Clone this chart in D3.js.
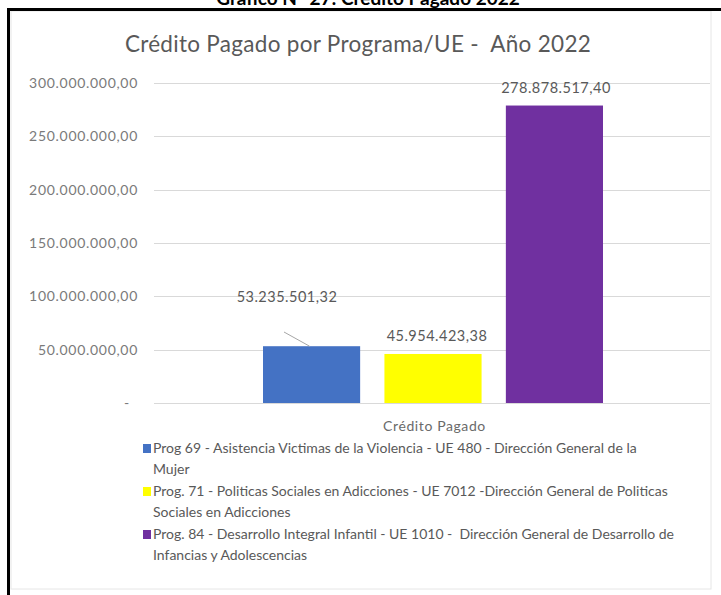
<!DOCTYPE html>
<html><head><meta charset="utf-8">
<script src="https://cdn.jsdelivr.net/npm/d3@7"></script>
<style>body{margin:0;background:#fff}svg{display:block}text{font-family:Lato,"Open Sans",sans-serif;white-space:pre}</style>
</head><body><svg id="c" width="721" height="595"></svg>
<script>
const categories = ["Crédito Pagado"];
const series = [
  "Prog 69 - Asistencia Victimas de la Violencia - UE 480 - Dirección General de la Mujer",
  "Prog. 71 - Politicas Sociales en Adicciones - UE 7012 -Dirección General de Politicas Sociales en Adicciones",
  "Prog. 84 - Desarrollo Integral Infantil - UE 1010 -  Dirección General de Desarrollo de Infancias y Adolescencias"
];
const legendLines = [
  ["Prog 69 - Asistencia Victimas de la Violencia - UE 480 - Dirección General de la", "Mujer"],
  ["Prog. 71 - Politicas Sociales en Adicciones - UE 7012 -Dirección General de Politicas", "Sociales en Adicciones"],
  ["Prog. 84 - Desarrollo Integral Infantil - UE 1010 -  Dirección General de Desarrollo de", "Infancias y Adolescencias"]
];
const values = [53235501.32, 45954423.38, 278878517.40];
const valueLabels = ["53.235.501,32", "45.954.423,38", "278.878.517,40"];
const colors = ["#4472C4", "#FFFF00", "#7030A0"];
const yTicks = [0, 50000000, 100000000, 150000000, 200000000, 250000000, 300000000];
const yTickLabels = ["-", "50.000.000,00", "100.000.000,00", "150.000.000,00", "200.000.000,00", "250.000.000,00", "300.000.000,00"];
const title = "Crédito Pagado por Programa/UE -  Año 2022";

const svg = d3.select("#c");
const grey = "#595959";

// cut-off heading above the frame
svg.append("text").attr("x", 368).attr("y", 5).attr("text-anchor", "middle")
  .attr("font-size", 19).attr("font-weight", "bold").attr("fill", "#000")
  .attr("font-family", "DejaVu Sans").text("Gráfico N° 27: Crédito Pagado 2022");

// frame
svg.append("rect").attr("x", 11).attr("y", 11).attr("width", 700).attr("height", 578)
  .attr("fill", "#fff").attr("stroke", "#e6e6e6");
svg.append("line").attr("x1", 8.5).attr("x2", 8.5).attr("y1", 8).attr("y2", 595).attr("stroke", "#000").attr("stroke-width", 3);
svg.append("line").attr("x1", 7).attr("x2", 721).attr("y1", 9.5).attr("y2", 9.5).attr("stroke", "#000").attr("stroke-width", 3);

svg.append("text").attr("x", 358).attr("y", 52).attr("text-anchor", "middle")
  .attr("font-size", 22.5).attr("letter-spacing", 0.3).attr("fill", grey).text(title);

const y = d3.scaleLinear().domain([0, 300000000]).range([403, 83]);
const x0 = d3.scaleBand().domain(categories).range([155, 710]);
const x1 = d3.scaleBand().domain(d3.range(values.length)).range([263, 603]).paddingInner(0.2);

// gridlines
svg.append("g").selectAll("line").data(yTicks).join("line")
  .attr("x1", 154).attr("x2", 710).attr("y1", d => Math.round(y(d)) + 0.5).attr("y2", d => Math.round(y(d)) + 0.5)
  .attr("stroke", "#d9d9d9").attr("stroke-width", 1);

// y axis labels
svg.append("g").selectAll("text").data(yTicks).join("text")
  .attr("x", (d, i) => i === 0 ? 130 : 138).attr("y", d => y(d) + 5).attr("text-anchor", "end")
  .attr("font-size", 14).attr("letter-spacing", 0.7).attr("fill", "#7a7a7a").text((d, i) => yTickLabels[i]);

// bars
svg.append("g").selectAll("rect").data(values).join("rect")
  .attr("x", (d, i) => x1(i)).attr("width", x1.bandwidth())
  .attr("y", d => y(d)).attr("height", d => y(0) - y(d))
  .attr("fill", (d, i) => colors[i]);

// data labels
const lblPos = [[287, 302], [437, 341], [556, 93]];
svg.append("g").selectAll("text").data(values).join("text")
  .attr("x", (d, i) => lblPos[i][0]).attr("y", (d, i) => lblPos[i][1])
  .attr("text-anchor", "middle").attr("font-size", 14.5).attr("letter-spacing", 0.5).attr("fill", grey)
  .text((d, i) => valueLabels[i]);
// leader line for first label
svg.append("line").attr("x1", 284).attr("y1", 332).attr("x2", x1(0) + x1.bandwidth() / 2 - 2).attr("y2", y(values[0]))
  .attr("stroke", "#a6a6a6").attr("stroke-width", 1);

// category label
svg.append("text").attr("x", x0("Crédito Pagado") + x0.bandwidth() / 2 + 2).attr("y", 431)
  .attr("text-anchor", "middle").attr("font-size", 14).attr("letter-spacing", 0.6).attr("fill", "#6a6a6a").text(categories[0]);

// legend
const legY = [453, 496, 539];
const lg = svg.append("g");
legendLines.forEach((lines, i) => {
  lg.append("rect").attr("x", 143).attr("y", legY[i] - 9).attr("width", 8).attr("height", 9).attr("fill", colors[i]);
  lines.forEach((t, j) => {
    lg.append("text").attr("x", 153).attr("y", legY[i] + j * 21).attr("font-size", 14).attr("fill", grey).text(t);
  });
});
</script></body></html>
